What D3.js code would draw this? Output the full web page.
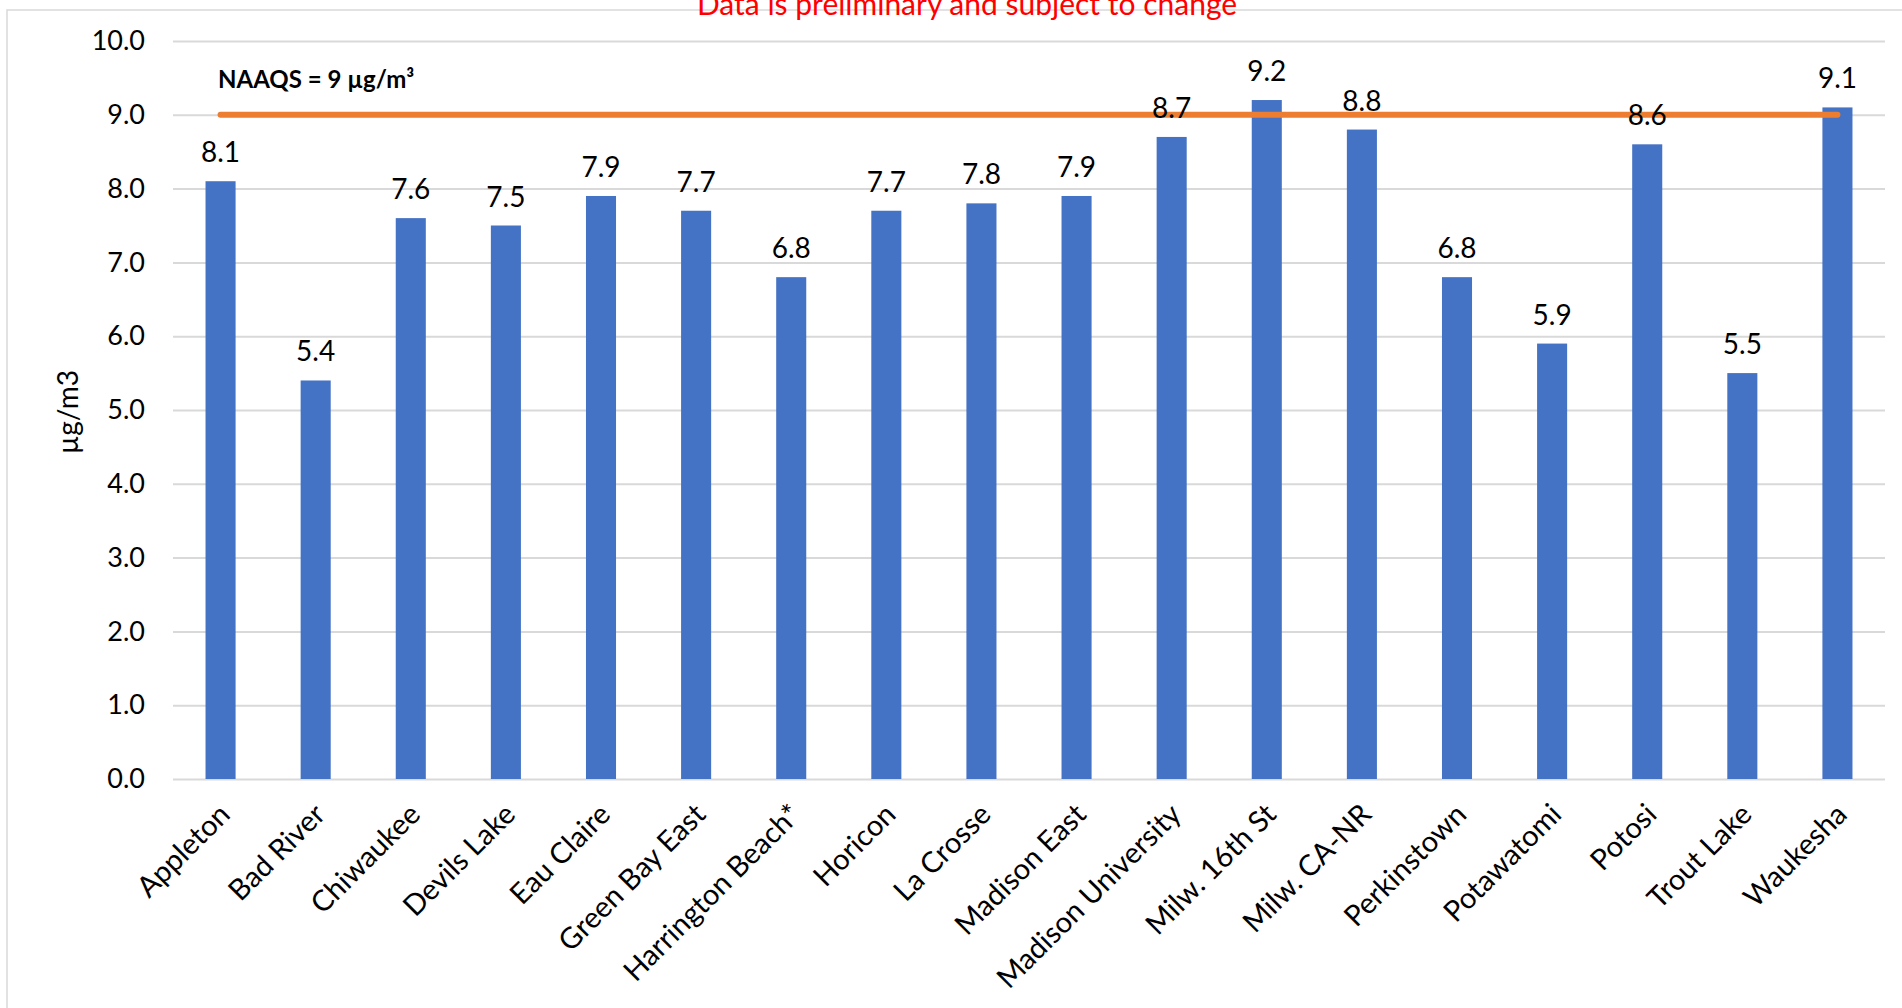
<!DOCTYPE html>
<html>
<head>
<meta charset="utf-8">
<script src="https://cdn.jsdelivr.net/npm/d3@7"></script>
<style>
    html, body { margin: 0; padding: 0; background: #fff; }
    svg { display: block; font-family: Lato, "Noto Sans", sans-serif; }
</style>
</head>
<body>
<svg id="chart" width="1902" height="1008"></svg>
<script>
// site names and annual PM2.5 values
const sites = ['Appleton', 'Bad River', 'Chiwaukee', 'Devils Lake', 'Eau Claire', 'Green Bay East',
    'Harrington Beach*', 'Horicon', 'La Crosse', 'Madison East', 'Madison University', 'Milw. 16th St',
    'Milw. CA-NR', 'Perkinstown', 'Potawatomi', 'Potosi', 'Trout Lake', 'Waukesha'];
const values = [8.1, 5.4, 7.6, 7.5, 7.9, 7.7, 6.8, 7.7, 7.8, 7.9, 8.7, 9.2, 8.8, 6.8, 5.9, 8.6, 5.5, 9.1];
const yTicks = [0, 1, 2, 3, 4, 5, 6, 7, 8, 9, 10];
const naaqs = 9;

const svg = d3.select('#chart');
const plot = { left: 173, right: 1885, top: 41, bottom: 779 };

// chart frame
svg.append('rect')
    .attr('x', 7).attr('y', 10)
    .attr('width', 1920).attr('height', 1020)
    .attr('fill', 'none')
    .attr('stroke', '#d9d9d9')
    .attr('stroke-width', 1.5);

// red note, partly cut off at the top
svg.append('text')
    .attr('x', 967).attr('y', 15)
    .attr('text-anchor', 'middle')
    .attr('fill', '#ff0000')
    .style('font-size', '30px')
    .text('Data is preliminary and subject to change');

const x = d3.scaleBand()
    .domain(sites)
    .range([plot.left, plot.right])
    .paddingInner(0.684)
    .paddingOuter(0.342);

const y = d3.scaleLinear()
    .domain([0, 10])
    .range([plot.bottom, plot.top]);

// gridlines + tick labels
const yAxis = d3.axisLeft(y)
    .tickValues(yTicks)
    .tickFormat(d3.format('.1f'))
    .tickSize(-(plot.right - plot.left))
    .tickPadding(28);

const gy = svg.append('g')
    .attr('transform', `translate(${plot.left},0)`)
    .call(yAxis);
gy.select('.domain').remove();
gy.selectAll('.tick line').attr('stroke', '#d9d9d9').attr('stroke-width', 2);
gy.selectAll('.tick text')
    .attr('fill', '#000')
    .style('font-size', '27px')
    .style('font-family', 'Lato, "Noto Sans", sans-serif');

// y title
svg.append('text')
    .attr('transform', 'translate(68,412) rotate(-90)')
    .attr('text-anchor', 'middle')
    .attr('dy', '0.35em')
    .style('font-size', '28px')
    .text('µg/m3');

// bars
svg.append('g').selectAll('rect')
    .data(sites)
    .join('rect')
    .attr('x', d => x(d))
    .attr('width', x.bandwidth())
    .attr('y', (d, i) => y(values[i]))
    .attr('height', (d, i) => y(0) - y(values[i]))
    .attr('fill', '#4472c4');

// NAAQS standard line
const cx = d => x(d) + x.bandwidth() / 2;
svg.append('line')
    .attr('x1', cx(sites[0]))
    .attr('x2', cx(sites[sites.length - 1]))
    .attr('y1', y(naaqs))
    .attr('y2', y(naaqs))
    .attr('stroke', '#ed7d31')
    .attr('stroke-width', 6)
    .attr('stroke-linecap', 'round');

svg.append('text')
    .attr('x', 218).attr('y', 88)
    .style('font-size', '24px')
    .style('font-weight', 'bold')
    .text('NAAQS = 9 µg/m³');

// value labels
svg.append('g').selectAll('text')
    .data(sites)
    .join('text')
    .attr('x', d => cx(d))
    .attr('y', (d, i) => y(values[i]) - 19)
    .attr('text-anchor', 'middle')
    .style('font-size', '28px')
    .text((d, i) => d3.format('.1f')(values[i]));

// rotated category labels
svg.append('g').selectAll('text')
    .data(sites)
    .join('text')
    .attr('transform', d => `translate(${cx(d) + 4},${plot.bottom + 30}) rotate(-45)`)
    .attr('text-anchor', 'end')
    .attr('dy', '0.35em')
    .style('font-size', '29px')
    .text(d => d);
</script>
</body>
</html>
